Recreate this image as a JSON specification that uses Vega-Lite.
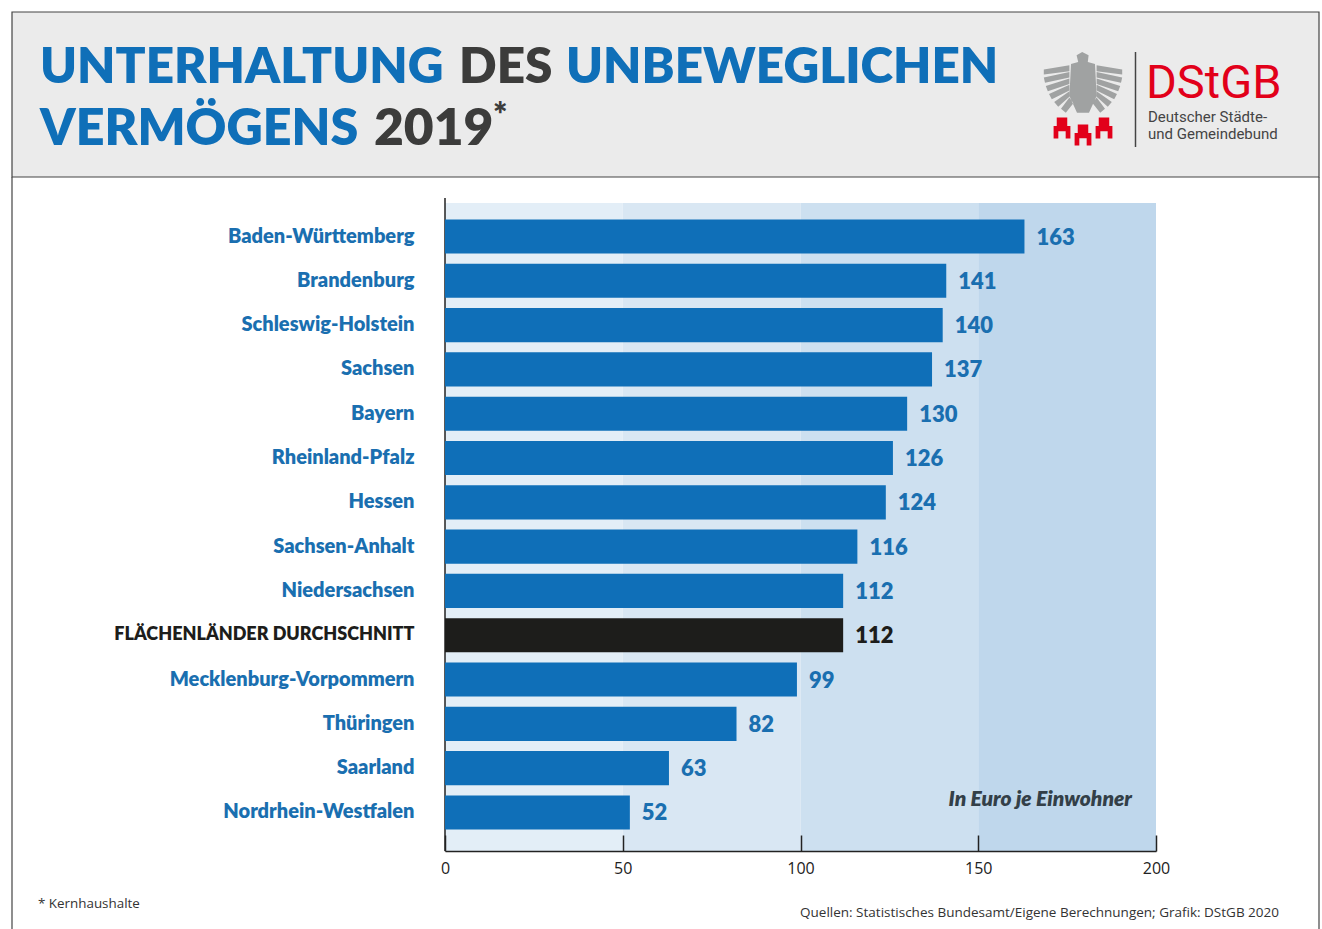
{
"$schema":"https://vega.github.io/schema/vega-lite/v6.json",
"width":1322,"height":929,"padding":0,"autosize":{"type":"none"},"background":"white",
"config":{"view":{"stroke":null}},
"datasets":{
"laender":[
{"land":"Baden-Württemberg","wert":163},{"land":"Brandenburg","wert":141},{"land":"Schleswig-Holstein","wert":140},{"land":"Sachsen","wert":137},{"land":"Bayern","wert":130},{"land":"Rheinland-Pfalz","wert":126},{"land":"Hessen","wert":124},{"land":"Sachsen-Anhalt","wert":116},{"land":"Niedersachsen","wert":112},{"land":"FLÄCHENLÄNDER DURCHSCHNITT","wert":112},{"land":"Mecklenburg-Vorpommern","wert":99},{"land":"Thüringen","wert":82},{"land":"Saarland","wert":63},{"land":"Nordrhein-Westfalen","wert":52}],
"baender":[{"von":0,"bis":50,"stufe":"a"},{"von":50,"bis":100,"stufe":"b"},{"von":100,"bis":150,"stufe":"c"},{"von":150,"bis":200,"stufe":"d"}],
"eins":[{"a":1}]
},
"layer":[
{"data":{"name":"eins"},"mark":{"type":"rect","fill":"#ebebeb","stroke":"#444","strokeWidth":1.2},"encoding":{"x":{"value":12},"x2":{"value":1319},"y":{"value":12},"y2":{"value":177}}},
{"data":{"name":"eins"},"mark":{"type":"rule","color":"#444","strokeWidth":1.2},"encoding":{"x":{"value":12},"y":{"value":177},"y2":{"value":929}}},
{"data":{"name":"eins"},"mark":{"type":"rule","color":"#444","strokeWidth":1.2},"encoding":{"x":{"value":1319},"y":{"value":177},"y2":{"value":929}}},
{"data":{"name":"baender"},"mark":{"type":"rect"},"encoding":{
"x":{"field":"von","type":"quantitative","scale":{"domain":[0,200],"range":[445,1156]},"axis":{"values":[0,50,100,150,200],"title":null,"grid":false,"offset":-78,"zindex":1,"domainColor":"#222","domainWidth":1.5,"tickColor":"#222","tickWidth":1.5,"tickSize":-16,"labelColor":"#222","labelFont":"Open Sans","labelFontSize":16,"labelPadding":25,"labelFontWeight":"normal","labelFlush":false,"labelBound":false,"labelOverlap":false}},
"x2":{"field":"bis"},
"y":{"value":203},"y2":{"value":851},
"color":{"field":"stufe","type":"nominal","legend":null,"scale":{"domain":["a","b","c","d"],"range":["#e3eef7","#d9e7f3","#cde0f0","#bfd7ec"]}}}},
{"data":{"name":"eins"},"mark":{"type":"rule","color":"#222","strokeWidth":1.5},"encoding":{"x":{"value":445},"y":{"value":198},"y2":{"value":851}}},
{"data":{"name":"laender"},"mark":{"type":"bar"},"encoding":{
"x":{"field":"wert","type":"quantitative","stack":null,"scale":{"domain":[0,200],"range":[445,1156]}},
"y":{"field":"land","type":"nominal","sort":null,"scale":{"range":[214.35,834.6],"paddingInner":0.23,"paddingOuter":0.115},"axis":{"title":null,"orient":"left","offset":-445,"domain":false,"ticks":false,"labelPadding":31,"labelLimit":400,"labelFont":"Lato","labelFontWeight":800,"labelFontSize":{"expr":"datum.value==='FLÄCHENLÄNDER DURCHSCHNITT'?18:20"},"labelColor":{"expr":"datum.value==='FLÄCHENLÄNDER DURCHSCHNITT'?'#1d1d1b':'#1a6fb0'"}}},
"color":{"condition":{"test":"datum.land==='FLÄCHENLÄNDER DURCHSCHNITT'","value":"#1d1d1b"},"value":"#0f6fb8"}}},
{"data":{"name":"laender"},"mark":{"type":"text","align":"left","baseline":"middle","dx":12,"dy":1,"font":"Lato","fontWeight":800,"fontSize":22},"encoding":{
"x":{"field":"wert","type":"quantitative","scale":{"domain":[0,200],"range":[445,1156]}},
"y":{"field":"land","type":"nominal","sort":null,"scale":{"range":[214.35,834.6],"paddingInner":0.23,"paddingOuter":0.115}},
"text":{"field":"wert","type":"quantitative"},
"color":{"condition":{"test":"datum.land==='FLÄCHENLÄNDER DURCHSCHNITT'","value":"#1d1d1b"},"value":"#1a6fb0"}}},
{"data":{"values":[{"t":"UNTERHALTUNG"}]},"mark":{"type":"text","align":"left","baseline":"alphabetic","font":"Lato","fontWeight":800,"fontSize":49.5,"color":"#0f6fb8"},"encoding":{"x":{"value":40},"y":{"value":83},"text":{"field":"t"}}},
{"data":{"values":[{"t":"DES"}]},"mark":{"type":"text","align":"left","baseline":"alphabetic","font":"Lato","fontWeight":800,"fontSize":49.5,"color":"#3c3c3b"},"encoding":{"x":{"value":459},"y":{"value":83},"text":{"field":"t"}}},
{"data":{"values":[{"t":"UNBEWEGLICHEN"}]},"mark":{"type":"text","align":"left","baseline":"alphabetic","font":"Lato","fontWeight":800,"fontSize":49.5,"color":"#0f6fb8"},"encoding":{"x":{"value":566},"y":{"value":83},"text":{"field":"t"}}},
{"data":{"values":[{"t":"VERMÖGENS"}]},"mark":{"type":"text","align":"left","baseline":"alphabetic","font":"Lato","fontWeight":800,"fontSize":50.2,"color":"#0f6fb8"},"encoding":{"x":{"value":40},"y":{"value":145},"text":{"field":"t"}}},
{"data":{"values":[{"t":"2019"}]},"mark":{"type":"text","align":"left","baseline":"alphabetic","font":"Lato","fontWeight":800,"fontSize":51.5,"color":"#3c3c3b"},"encoding":{"x":{"value":374},"y":{"value":145},"text":{"field":"t"}}},
{"data":{"values":[{"t":"*"}]},"mark":{"type":"text","align":"left","baseline":"alphabetic","font":"Lato","fontWeight":800,"fontSize":34,"color":"#3c3c3b"},"encoding":{"x":{"value":493},"y":{"value":127},"text":{"field":"t"}}},
{"data":{"values":[{"t":"In Euro je Einwohner"}]},"mark":{"type":"text","align":"right","baseline":"alphabetic","font":"Lato","fontWeight":800,"fontStyle":"italic","fontSize":21,"color":"#333f48"},"encoding":{"x":{"value":1132},"y":{"value":806},"text":{"field":"t"}}},
{"data":{"values":[{"t":"* Kernhaushalte"}]},"mark":{"type":"text","align":"left","baseline":"alphabetic","font":"Open Sans","fontSize":13.4,"color":"#333"},"encoding":{"x":{"value":38},"y":{"value":908},"text":{"field":"t"}}},
{"data":{"values":[{"t":"Quellen: Statistisches Bundesamt/Eigene Berechnungen; Grafik: DStGB 2020"}]},"mark":{"type":"text","align":"right","baseline":"alphabetic","font":"Open Sans","fontSize":13.5,"color":"#333"},"encoding":{"x":{"value":1279},"y":{"value":917},"text":{"field":"t"}}},
{"data":{"name":"eins"},"mark":{"type":"rule","color":"#444","strokeWidth":1.5},"encoding":{"x":{"value":1135.5},"y":{"value":52},"y2":{"value":147}}},
{"data":{"values":[{"t":"DStGB"}]},"mark":{"type":"text","align":"left","baseline":"alphabetic","font":"Roboto","fontSize":47,"color":"#e2001a"},"encoding":{"x":{"value":1146},"y":{"value":98},"text":{"field":"t"}}},
{"data":{"values":[{"t":"Deutscher Städte-"}]},"mark":{"type":"text","align":"left","baseline":"alphabetic","font":"Roboto","fontSize":15,"color":"#444"},"encoding":{"x":{"value":1148},"y":{"value":122},"text":{"field":"t"}}},
{"data":{"values":[{"t":"und Gemeindebund"}]},"mark":{"type":"text","align":"left","baseline":"alphabetic","font":"Roboto","fontSize":15,"color":"#444"},"encoding":{"x":{"value":1148},"y":{"value":139},"text":{"field":"t"}}},
{"data":{"name":"eins"},"mark":{"type":"point","filled":true,"opacity":1,"fill":"#a0a2a2","stroke":null,"size":6400,"shape":"M-.3,-.5L-.12,-.55L-.16,-.72L-.02,-.8L.14,-.72L.12,-.55L.3,-.5L.34,.3L.15,.72L-.15,.72L-.34,.3Z M-.34,-.47L-.98,-.36L-.98,-.24L-.34,-.32Z M-.34,-.3L-.98,-.16L-.95,-.03L-.34,-.16Z M-.34,-.14L-.93,.05L-.88,.18L-.34,0Z M-.34,.02L-.85,.25L-.78,.38L-.34,.16Z M-.34,.18L-.72,.45L-.62,.57L-.34,.32Z M-.34,.34L-.55,.62L-.43,.72L-.24,.48Z M.34,-.47L.98,-.36L.98,-.24L.34,-.32Z M.34,-.3L.98,-.16L.95,-.03L.34,-.16Z M.34,-.14L.93,.05L.88,.18L.34,0Z M.34,.02L.85,.25L.78,.38L.34,.16Z M.34,.18L.72,.45L.62,.57L.34,.32Z M.34,.34L.55,.62L.43,.72L.24,.48Z"},"encoding":{"x":{"value":1083},"y":{"value":84}}},
{"data":{"name":"eins"},"mark":{"type":"point","filled":true,"opacity":1,"fill":"#e2001a","stroke":null,"size":441,"shape":"M-.8,1L-.8,-.2L-.5,-.2L-.5,-1L.5,-1L.5,-.2L.8,-.2L.8,1L.35,1L.35,.3L-.35,.3L-.35,1Z"},"encoding":{"x":{"value":1062},"y":{"value":128}}},
{"data":{"name":"eins"},"mark":{"type":"point","filled":true,"opacity":1,"fill":"#e2001a","stroke":null,"size":441,"shape":"M-.8,1L-.8,-.2L-.5,-.2L-.5,-1L.5,-1L.5,-.2L.8,-.2L.8,1L.35,1L.35,.3L-.35,.3L-.35,1Z"},"encoding":{"x":{"value":1083},"y":{"value":135}}},
{"data":{"name":"eins"},"mark":{"type":"point","filled":true,"opacity":1,"fill":"#e2001a","stroke":null,"size":441,"shape":"M-.8,1L-.8,-.2L-.5,-.2L-.5,-1L.5,-1L.5,-.2L.8,-.2L.8,1L.35,1L.35,.3L-.35,.3L-.35,1Z"},"encoding":{"x":{"value":1104},"y":{"value":128}}}
]
}
